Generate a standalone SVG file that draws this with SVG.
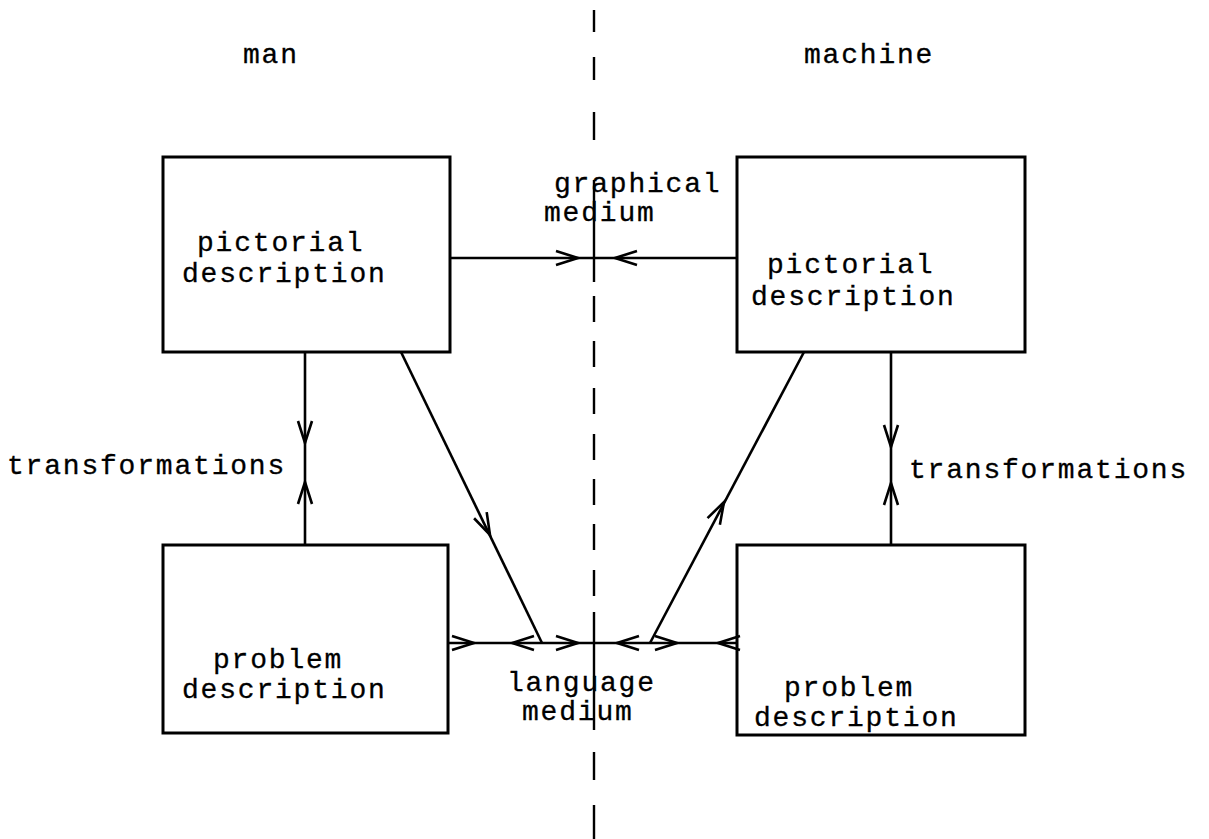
<svg xmlns="http://www.w3.org/2000/svg" xmlns:xlink="http://www.w3.org/1999/xlink" width="1209" height="839" viewBox="0 0 1209 839">
  <style>
    .box { fill: none; stroke: #000; stroke-width: 3; }
    .line { fill: none; stroke: #000; stroke-width: 2.6; stroke-linecap: butt; }
    .divider { fill: none; stroke: #000; stroke-width: 2.4; }
    .head { fill: none; stroke: #000; stroke-width: 2.6; stroke-linejoin: miter; }
    text { font-family: "Liberation Mono", "DejaVu Sans Mono", monospace; font-size: 28px; letter-spacing: 1.8px; fill: #000; stroke: #000; stroke-width: 0.3; }
  </style>
  <defs>
    <!-- open arrowhead, tip at the origin, pointing along +x -->
    <path id="head" class="head" d="M-22,-7 L0,0 L-22,7"/>
  </defs>
  <rect width="1209" height="839" fill="#fff"/>

  <!-- side headings -->
  <text x="243" y="63">man</text>
  <text x="804" y="63">machine</text>

  <!-- man / machine boundary -->
  <path class="divider" d="M594,10 V32 M594,57 V80 M594,112 V140 M594,180 V282 M594,296 V322 M594,341 V367 M594,388 V414 M594,434 V460 M594,479 V505 M594,524 V550 M594,570 V596 M594,612 V730 M594,752 V780 M594,805 V839"/>

  <g id="man-pictorial">
    <rect class="box" x="163" y="157" width="287" height="195"/>
    <text x="197" y="251">pictorial</text>
    <text x="182" y="282">description</text>
  </g>

  <g id="man-problem">
    <rect class="box" x="163" y="545" width="285" height="188"/>
    <text x="213" y="668">problem</text>
    <text x="182" y="698">description</text>
  </g>

  <g id="machine-pictorial">
    <rect class="box" x="737" y="157" width="288" height="195"/>
    <text x="767" y="273">pictorial</text>
    <text x="751" y="305">description</text>
  </g>

  <g id="machine-problem">
    <rect class="box" x="737" y="545" width="288" height="190"/>
    <text x="784" y="696">problem</text>
    <text x="754" y="726">description</text>
  </g>

  <g id="labels">
    <text x="554" y="192">graphical</text>
    <text x="544" y="221">medium</text>
    <text x="507" y="691">language</text>
    <text x="522" y="720">medium</text>
    <text x="7" y="474">transformations</text>
    <text x="909" y="478">transformations</text>
  </g>

  <g id="connectors">
    <!-- graphical medium -->
    <path class="line" d="M450,258 H737"/>
    <use xlink:href="#head" transform="translate(578,258)"/>
    <use xlink:href="#head" transform="translate(615,258) rotate(180)"/>

    <!-- language medium -->
    <path class="line" d="M448,643 H737"/>
    <use xlink:href="#head" transform="translate(474,643)"/>
    <use xlink:href="#head" transform="translate(512,643) rotate(180)"/>
    <use xlink:href="#head" transform="translate(578,643)"/>
    <use xlink:href="#head" transform="translate(617,643) rotate(180)"/>
    <use xlink:href="#head" transform="translate(677,643)"/>
    <use xlink:href="#head" transform="translate(718,643) rotate(180)"/>

    <!-- man transformations -->
    <path class="line" d="M305,352 V545"/>
    <use xlink:href="#head" transform="translate(305,443) rotate(90)"/>
    <use xlink:href="#head" transform="translate(305,482) rotate(-90)"/>

    <!-- machine transformations -->
    <path class="line" d="M891,352 V545"/>
    <use xlink:href="#head" transform="translate(891,447) rotate(90)"/>
    <use xlink:href="#head" transform="translate(891,483) rotate(-90)"/>

    <!-- man pictorial to language medium -->
    <path class="line" d="M401,352 L542,643"/>
    <use xlink:href="#head" transform="translate(490,535) rotate(64.1)"/>

    <!-- language medium to machine pictorial -->
    <path class="line" d="M650,643 L804,352"/>
    <use xlink:href="#head" transform="translate(724,502) rotate(-62.1)"/>
  </g>
</svg>
